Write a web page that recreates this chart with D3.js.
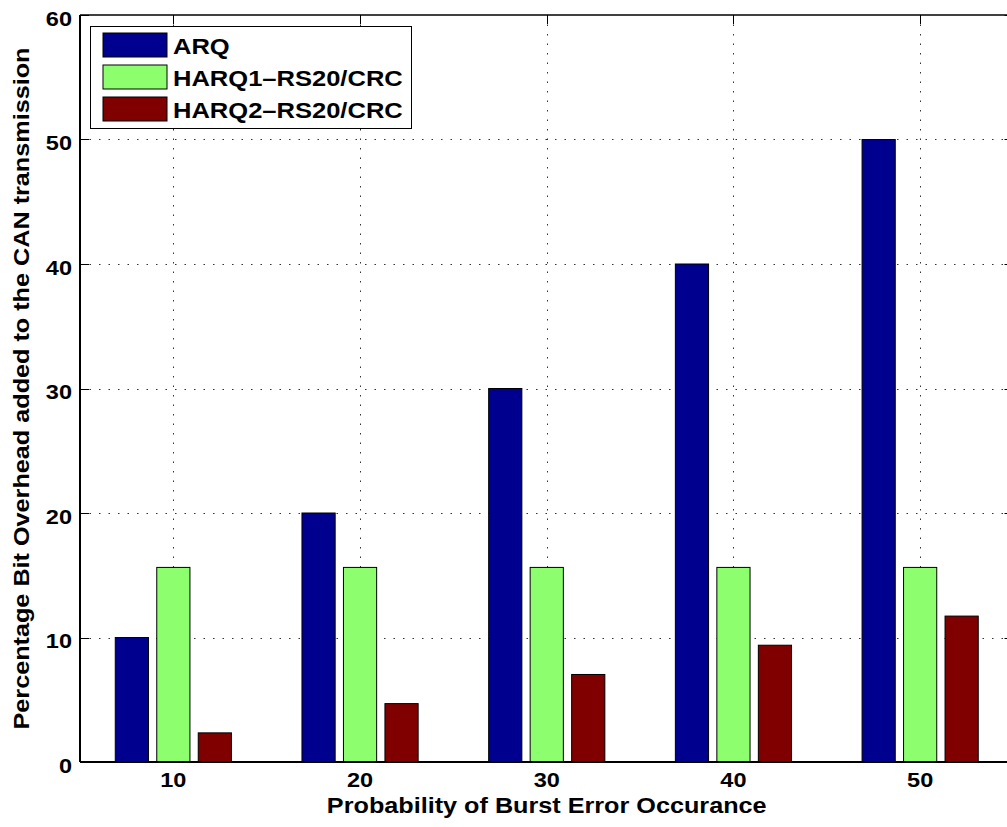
<!DOCTYPE html>
<html>
<head>
<meta charset="utf-8">
<script src="https://cdn.jsdelivr.net/npm/d3@7"></script>
<style>
  html, body { margin: 0; padding: 0; background: #fff; overflow: hidden; }
  svg { display: block; }
  text { font-family: "Liberation Sans", Arial, Helvetica, sans-serif; font-weight: bold; fill: #000; }
</style>
</head>
<body>
<svg id="chart" width="1007" height="827"></svg>
<script>
// Burst error probability (%) on the x axis
const categories = [10, 20, 30, 40, 50];
// Percentage bit overhead for each scheme
const arqValues   = [10, 20, 30, 40, 50];
const harq1Values = [15.63, 15.63, 15.63, 15.63, 15.63];
const harq2Values = [2.34, 4.69, 7.03, 9.38, 11.72];
const seriesNames = ["ARQ", "HARQ1\u2013RS20/CRC", "HARQ2\u2013RS20/CRC"];
const seriesColors = ["#00008F", "#8DFF6E", "#800000"];
const yTicks = [0, 10, 20, 30, 40, 50, 60];
const xTitle = "Probability of Burst Error Occurance";
const yTitle = "Percentage Bit Overhead added to the CAN transmission";

const series = [arqValues, harq1Values, harq2Values];

const svg = d3.select("#chart");
const pLeft = 80, pRight = 1013.5, pTop = 15, pBottom = 762;

const x = d3.scaleLinear().domain([5, 55]).range([pLeft, pRight]);
const y = d3.scaleLinear().domain([0, 60]).range([pBottom, pTop]);

// stretch text along its baseline to mimic the wider export font
function widen(sel, k) {
  sel.each(function () {
    const w = this.getComputedTextLength();
    d3.select(this).attr("textLength", w * k).attr("lengthAdjust", "spacingAndGlyphs");
  });
}

// dotted grid
const grid = svg.append("g")
  .attr("stroke", "#333").attr("stroke-width", 1).attr("stroke-dasharray", "1.5,8");
grid.selectAll("line.gy").data(yTicks.slice(1, -1)).join("line")
  .attr("x1", pLeft).attr("x2", pRight)
  .attr("y1", d => Math.round(y(d)) + 0.5).attr("y2", d => Math.round(y(d)) + 0.5);
grid.selectAll("line.gx").data(categories).join("line")
  .attr("y1", pTop).attr("y2", pBottom)
  .attr("x1", d => Math.round(x(d)) + 0.5).attr("x2", d => Math.round(x(d)) + 0.5);

// grouped bars: three slots across 2/3 of the category spacing, bars 80% of a slot
const nSeries = series.length;
const slot = 10 * (2 / 3) / nSeries;
const barW = 0.8 * slot;
series.forEach((vals, si) => {
  const off = (si - (nSeries - 1) / 2) * slot;
  svg.append("g").selectAll("rect").data(categories).join("rect")
    .attr("x", d => x(d + off - barW / 2))
    .attr("width", d => x(d + off + barW / 2) - x(d + off - barW / 2))
    .attr("y", (d, i) => y(vals[i]))
    .attr("height", (d, i) => y(0) - y(vals[i]))
    .attr("fill", seriesColors[si])
    .attr("stroke", "#000").attr("stroke-width", 1);
});

// axes box
const axes = svg.append("g").attr("stroke", "#000").attr("fill", "none");
axes.append("line").attr("x1", pLeft).attr("x2", pRight).attr("y1", pBottom).attr("y2", pBottom).attr("stroke-width", 2);
axes.append("line").attr("x1", pLeft).attr("x2", pLeft).attr("y1", pTop).attr("y2", pBottom).attr("stroke-width", 2);
axes.append("line").attr("x1", pLeft).attr("x2", pRight).attr("y1", pTop).attr("y2", pTop).attr("stroke-width", 1.5);
axes.append("line").attr("x1", pRight).attr("x2", pRight).attr("y1", pTop).attr("y2", pBottom).attr("stroke-width", 1.5);

// inward tick marks
const tk = 9;
axes.selectAll("line.ty").data(yTicks).join("line")
  .attr("x1", pLeft).attr("x2", pLeft + tk)
  .attr("y1", d => Math.round(y(d)) + 0.5).attr("y2", d => Math.round(y(d)) + 0.5)
  .attr("stroke-width", 1);
axes.selectAll("line.ty2").data(yTicks).join("line")
  .attr("x1", pRight - tk).attr("x2", pRight)
  .attr("y1", d => Math.round(y(d)) + 0.5).attr("y2", d => Math.round(y(d)) + 0.5)
  .attr("stroke-width", 1);
axes.selectAll("line.tx").data(categories).join("line")
  .attr("x1", d => Math.round(x(d)) + 0.5).attr("x2", d => Math.round(x(d)) + 0.5)
  .attr("y1", pTop).attr("y2", pTop + tk).attr("stroke-width", 1);

// tick labels
svg.append("g").selectAll("text").data(yTicks).join("text")
  .attr("x", 72).attr("y", d => y(d) + 3).attr("dy", "0.36em")
  .attr("text-anchor", "end").attr("font-size", 21)
  .text(d => d).call(widen, 1.12);
svg.append("g").selectAll("text").data(categories).join("text")
  .attr("x", d => x(d)).attr("y", 786.5)
  .attr("text-anchor", "middle").attr("font-size", 21)
  .text(d => d).call(widen, 1.12);

// axis titles
svg.append("text")
  .attr("x", (pLeft + pRight) / 2).attr("y", 812.5)
  .attr("text-anchor", "middle").attr("font-size", 22.5)
  .text(xTitle).call(widen, 1.12);
svg.append("text")
  .attr("transform", `translate(29,${(pTop + pBottom) / 2}) rotate(-90)`)
  .attr("text-anchor", "middle").attr("font-size", 22.5)
  .text(yTitle).call(widen, 1.12);

// legend
const lg = svg.append("g");
lg.append("rect").attr("x", 90.5).attr("y", 26.5).attr("width", 321).attr("height", 102)
  .attr("fill", "#fff").attr("stroke", "#000").attr("stroke-width", 1);
seriesNames.forEach((name, i) => {
  const cy = 45 + i * 32;
  lg.append("rect").attr("x", 103).attr("y", cy - 12).attr("width", 64).attr("height", 24)
    .attr("fill", seriesColors[i]).attr("stroke", "#000").attr("stroke-width", 1);
  lg.append("text").attr("x", 173).attr("y", cy + 9).attr("font-size", 22)
    .text(name).call(widen, 1.16);
});
</script>
</body>
</html>
